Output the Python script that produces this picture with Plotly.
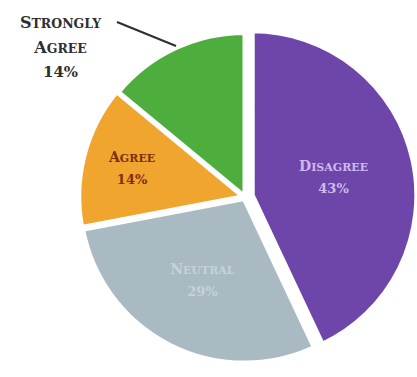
import plotly.graph_objects as go

# Survey response shares
categories = ["Disagree", "Neutral", "Agree", "Strongly Agree"]
shares = [43, 29, 14, 14]

slice_colors = ["#6E46A9", "#A9BAC2", "#F0A52E", "#4DAE3E"]
label_colors = ["#CDB9EE", "#C6D2D8", "#7E2F0C", "#2E2E2E"]
pulls = [0.045, 0.01, 0.01, 0.0]

FONT = "DejaVu Serif"


def small_caps(phrase, big, small):
    """Render a phrase in small caps using sized spans."""
    parts = []
    for word in phrase.split():
        parts.append(
            f"<span style='font-size:{big}px'>{word[0].upper()}</span>"
            f"<span style='font-size:{small}px'>{word[1:].upper()}</span>"
        )
    return " ".join(parts)


def slice_label(name, value):
    return (
        "<b>" + small_caps(name, 14, 11)
        + f"<br><span style='font-size:13px'>{value}%</span></b>"
    )


# The last slice is labelled outside with a leader line
inside_text = [slice_label(c, v) for c, v in zip(categories[:-1], shares[:-1])] + [""]

fig = go.Figure(
    go.Pie(
        labels=categories,
        values=shares,
        sort=False,
        direction="clockwise",
        rotation=0,
        pull=pulls,
        marker=dict(colors=slice_colors, line=dict(color="white", width=5)),
        text=inside_text,
        texttemplate="%{text}",
        textposition="inside",
        insidetextorientation="horizontal",
        textfont=dict(family=FONT, color=label_colors, size=17),
        hoverinfo="label+percent",
        showlegend=False,
        domain=dict(x=[73 / 417, 1.0], y=[2 / 377, 358 / 377]),
    )
)

outside_label = (
    "<b>"
    + small_caps("Strongly", 16, 12.5)
    + "<br>"
    + small_caps("Agree", 16, 12.5)
    + f"<br><span style='font-size:15px'>{shares[3]}%</span></b>"
)

fig.add_annotation(
    text=outside_label,
    xref="paper",
    yref="paper",
    x=61 / 417,
    y=1 - 47 / 377,
    xanchor="center",
    yanchor="middle",
    showarrow=False,
    align="center",
    font=dict(family=FONT, size=19, color="#2E2E2E"),
)

# Leader line from the outside label to the slice
fig.add_shape(
    type="line",
    xref="paper",
    yref="paper",
    x0=117 / 417,
    y0=1 - 22 / 377,
    x1=176 / 417,
    y1=1 - 46 / 377,
    line=dict(color="#2E2E2E", width=2),
)

fig.update_layout(
    width=417,
    height=377,
    margin=dict(l=0, r=0, t=0, b=0),
    paper_bgcolor="white",
    plot_bgcolor="white",
)

fig.write_html("out.html")
